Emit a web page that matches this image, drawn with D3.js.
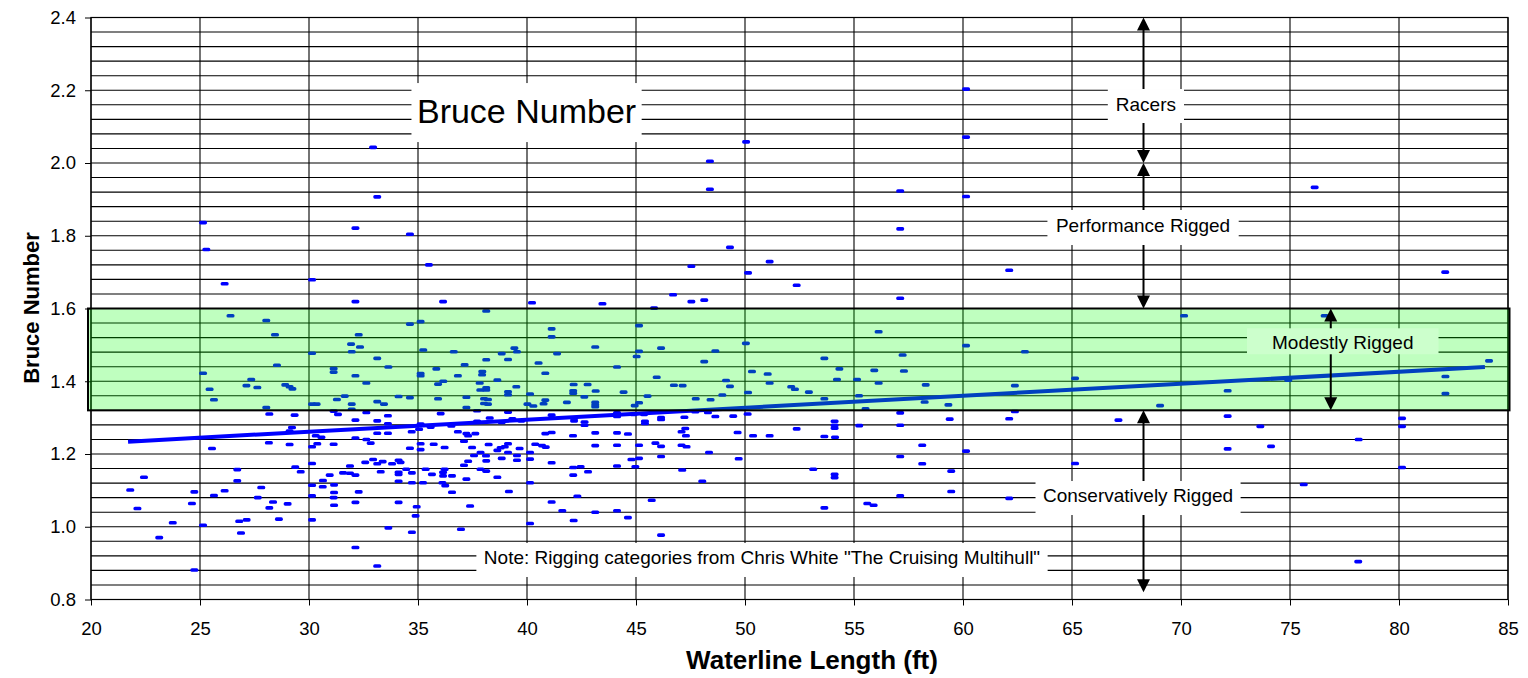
<!DOCTYPE html>
<html><head><meta charset="utf-8">
<script src="https://cdn.jsdelivr.net/npm/d3@7"></script>
<style>
body{margin:0;background:#fff}
svg{display:block;font-family:"Liberation Sans",Arial,sans-serif}
</style>
</head><body>
<svg id="c" width="1528" height="678"></svg>
<script>
// ---------- data ----------
const waterlineFt = [
  32.94,33.13,25.14,32.13,34.63,25.29,35.5,26.13,30.14,32.13, 36.15,40.23,38.13,26.4,
  60.14,60.14,50.05,48.39,48.39,57.12,60.14,57.12,49.31,47.54, 51.13,50.14,62.12,52.37,46.70,47.54,48.13,57.12,43.46,45.83,
  76.13,82.12,
  28.04,28.44,34.63,35.12,32.28,31.93,32.34,31.96,30.14,35.24,
  36.64,41.13,41.13,41.38,38.84,39.42,39.54,38.13,39.13,33.13,
  37.14,40.53,28.53,33.64,31.13,31.13,35.84,37.95,37.94,35.12,
  35.12,36.83,40.84,25.14,32.13,27.35,38.64,32.63,36.16,35.92,
  37.83,27.13,27.63,28.91,29.11,29.24,25.44,39.51,38.13,38.13,
  37.86,39.13,39.13,31.64,31.28,34.11,34.63,35.92,37.22,38.03,
  38.21,40.14,40.84,40.76,25.64,33.13,33.44,31.96,30.14,30.35,
  38.03,38.21,40.02,40.29,28.04,37.22,41.83,
  31.13,31.33,31.96,32.63,28.18,29.34,33.62,36.04,37.71,39.13,
  41.13,32.13,33.13,33.62,38.29,39.33,39.74,38.84,37.71,35.12,
  35.58,36.53,29.22,29.11,34.71,35.05,33.13,33.62,36.83,37.22,
  37.63,37.30,40.84,41.13,30.31,30.57,32.13,32.63,32.83,28.16,
  29.11,30.14,30.38,31.13,37.11,35.12,35.72,38.24,39.13,38.98,
  38.79,38.64,40.38,40.69,40.86,39.66,34.63,35.12,36.22,37.48,
  25.55,37.87,37.57,38.12,39.13,39.54,39.54,40.14,40.14,38.84,
  38.13,37.30,37.11,41.13,32.58,32.94,33.13,33.38,33.81,34.11,
  34.20,30.14,31.88,29.37,29.62,26.71,34.46,34.11,34.11,34.72,
  35.35,35.64,36.22,36.15,36.15,36.56,37.87,38.13,38.64,37.22,
  33.29,31.56,31.88,32.13,30.95,30.64,31.15,30.63,30.14,34.11,
  34.72,35.23,36.12,36.25,40.14,22.43,26.71,27.81,21.80,24.74,
  26.13,25.64,32.28,31.15,36.56,39.17,30.14,31.13,27.65,28.35,
  24.63,29.02,31.15,32.13,34.11,34.94,37.39,41.13,41.62,22.13,
  28.18,34.89,23.75,25.14,26.80,27.14,28.62,30.14,40.14,33.64,
  36.97,34.72,26.88,23.13,32.13,33.13,24.74,
  45.14,56.13,43.13,46.15,45.14,45.03,48.64,50.04,60.14,62.84,
  57.23,48.13,53.64,44.13,54.33,55.93,57.29,50.32,51.04,45.95,
  49.13,51.13,56.13,54.22,55.14,49.31,46.74,47.14,52.12,52.29,
  52.93,58.29,62.38,42.14,42.78,42.12,42.12,43.15,44.43,50.14,
  48.96,45.53,42.63,55.23,47.74,48.42,53.64,43.13,43.13,43.13,
  45.14,44.94,58.24,59.33,55.53,
  44.13,44.13,44.89,45.37,46.15,46.15,47.22,47.72,48.30,48.64,
  49.46,50.12,57.12,62.38,62.12,59.39,42.16,42.16,42.64,42.64,
  45.41,45.41,54.11,54.11,54.11,55.24,57.12,52.37,47.26,47.09,
  47.29,49.66,50.37,51.13,53.64,54.13,42.11,43.13,44.13,44.63,
  43.13,44.13,45.14,45.89,46.15,47.09,47.32,48.35,58.13,60.14,
  57.12,46.15,45.14,44.79,49.71,58.13,44.13,44.97,42.12,42.46,
  42.80,42.12,47.12,53.13,54.11,54.11,59.46,48.04,59.46,57.12,
  42.31,45.72,55.61,55.90,62.12,53.64,44.13,43.13,44.63,42.14,46.15,
  70.14,76.59,65.14,82.13,84.13,74.92,72.14,82.13,69.04,67.13,
  72.14,73.64,80.14,80.14,78.15,72.14,74.13,65.14,80.14,75.63,78.13
];
const bruceNumber = [
  2.043,1.907,1.836,1.821,1.804,1.762,1.720,1.668,1.679,1.619, 1.619,1.616,1.593,1.58,
  2.203,2.071,2.058,2.005,1.928,1.923,1.908,1.819,1.768,1.716, 1.729,1.698,1.705,1.664,1.638,1.619,1.623,1.628,1.613,1.601,
  1.933,1.700,
  1.567,1.528,1.557,1.564,1.528,1.502,1.494,1.481,1.477,1.486,
  1.481,1.544,1.522,1.476,1.476,1.491,1.481,1.459,1.460,1.463,
  1.445,1.450,1.444,1.439,1.435,1.425,1.434,1.427,1.418,1.421,
  1.415,1.415,1.422,1.422,1.415,1.405,1.403,1.395,1.400,1.392,
  1.395,1.388,1.383,1.390,1.385,1.379,1.378,1.385,1.382,1.376,
  1.376,1.371,1.363,1.359,1.350,1.358,1.355,1.352,1.356,1.352,
  1.350,1.365,1.348,1.338,1.349,1.344,1.337,1.337,1.337,1.337,
  1.339,1.337,1.337,1.332,1.328,1.328,1.342,
  1.318,1.309,1.323,1.314,1.310,1.307,1.305,1.311,1.319,1.315,
  1.307,1.293,1.291,1.283,1.299,1.297,1.291,1.287,1.290,1.282,
  1.274,1.277,1.273,1.263,1.261,1.268,1.257,1.257,1.261,1.256,
  1.256,1.250,1.256,1.259,1.250,1.246,1.244,1.240,1.230,1.231,
  1.226,1.220,1.228,1.227,1.235,1.228,1.227,1.226,1.228,1.220,
  1.217,1.210,1.227,1.223,1.219,1.215,1.216,1.212,1.218,1.218,
  1.215,1.204,1.196,1.195,1.204,1.196,1.183,1.204,1.186,1.188,
  1.181,1.180,1.169,1.176,1.177,1.185,1.173,1.179,1.173,1.183,
  1.177,1.174,1.167,1.164,1.151,1.157,1.158,1.150,1.144,1.148,
  1.158,1.144,1.158,1.150,1.140,1.140,1.158,1.153,1.136,1.131,
  1.151,1.148,1.147,1.142,1.142,1.127,1.115,1.110,1.114,1.125,
  1.121,1.121,1.121,1.113,1.121,1.136,1.126,1.108,1.101,1.096,
  1.099,1.086,1.096,1.094,1.095,1.097,1.085,1.080,1.080,1.068,
  1.064,1.063,1.059,1.067,1.067,1.055,1.057,1.068,1.044,1.050,
  1.052,1.030,1.011,1.004,1.015,1.019,1.021,1.019,1.009,0.997,
  0.993,0.985,0.983,0.970,0.943,0.892,0.881,
  1.553,1.536,1.494,1.491,1.482,1.468,1.483,1.504,1.498,1.481,
  1.472,1.454,1.463,1.439,1.434,1.430,1.428,1.427,1.420,1.411,
  1.402,1.395,1.395,1.405,1.405,1.386,1.389,1.388,1.385,1.378,
  1.370,1.390,1.388,1.391,1.391,1.374,1.367,1.373,1.370,1.369,
  1.362,1.359,1.357,1.360,1.352,1.349,1.352,1.342,1.335,1.330,
  1.341,1.333,1.343,1.335,1.324,
  1.313,1.303,1.309,1.309,1.300,1.295,1.301,1.316,1.314,1.303,
  1.304,1.310,1.313,1.317,1.297,1.296,1.298,1.291,1.288,1.279,
  1.290,1.284,1.290,1.279,1.271,1.278,1.279,1.269,1.270,1.261,
  1.250,1.259,1.250,1.250,1.248,1.246,1.250,1.258,1.258,1.255,
  1.223,1.224,1.224,1.230,1.221,1.224,1.220,1.204,1.224,1.208,
  1.193,1.193,1.188,1.185,1.187,1.173,1.167,1.165,1.163,1.165,
  1.151,1.142,1.156,1.158,1.144,1.135,1.153,1.125,1.097,1.085,
  1.084,1.073,1.064,1.059,1.078,1.052,1.044,1.040,1.025,1.017,0.977,
  1.580,1.580,1.408,1.413,1.456,1.403,1.374,1.366,1.333,1.293,
  1.304,1.276,1.298,1.276,1.240,1.214,1.221,1.174,1.163,1.116,0.904
];
const trendX = [21.7, 83.94];
const trendY = [1.234, 1.439];
const xTicks = [20,25,30,35,40,45,50,55,60,65,70,75,80,85];
const yTicks = [0.8,1.0,1.2,1.4,1.6,1.8,2.0,2.2,2.4];
const yGridStep = 0.04;
const modestBand = [1.32, 1.6];
const categories   = ["Racers","Performance Rigged","Modestly Rigged","Conservatively Rigged"];
const catArrowX    = [68.28, 68.28, 76.87, 68.28];
const catArrowTop  = [2.4, 2.0, 1.6, 1.32];
const catArrowBot  = [2.0, 1.6, 1.32, 0.82];
const catLabelX    = [68.39, 68.26, 77.42, 68.03];
const catLabelY    = [2.144, 1.8095, 1.4887, 1.068];
const chartTitle = "Bruce Number";
const titleAt = [39.98, 2.109];
const noteText = 'Note: Rigging categories from Chris White "The Cruising Multihull"';
const noteAt = [50.78, 0.8968];
const xTitle = "Waterline Length (ft)";
const yTitle = "Bruce Number";

// ---------- drawing ----------
const FONT = '"Liberation Sans", Arial, sans-serif';
const svg = d3.select("#c");
const x = d3.scaleLinear().domain([20,85]).range([91,1508]);
const y = d3.scaleLinear().domain([0.8,2.4]).range([599.5,17.5]);

const yGrid = d3.range(0, Math.round((2.4-0.8)/yGridStep)+1).map(i => +(0.8 + i*yGridStep).toFixed(2));

// gridlines
const gGrid = svg.append("g");
gGrid.selectAll("line.h").data(yGrid).join("line").attr("class","h")
  .attr("x1", x(20)).attr("x2", x(85)).attr("y1", d=>y(d)).attr("y2", d=>y(d))
  .attr("stroke","#000").attr("stroke-width",1.1);
gGrid.selectAll("line.v").data(xTicks).join("line").attr("class","v")
  .attr("x1", d=>x(d)).attr("x2", d=>x(d)).attr("y1", y(2.4)).attr("y2", y(0.8))
  .attr("stroke","#000").attr("stroke-width",1.1);

// axes
const gx = svg.append("g").attr("transform",`translate(0,${y(0.8)})`)
  .call(d3.axisBottom(x).tickValues(xTicks).tickSize(6).tickPadding(16).tickFormat(d3.format("d")));
gx.select(".domain").remove();
gx.attr("font-size",18.5).attr("font-family",FONT);
gx.selectAll("text").attr("fill","#000");
gx.selectAll("line").attr("stroke","#000");

const gy = svg.append("g").attr("transform",`translate(${x(20)},0)`)
  .call(d3.axisLeft(y).tickValues(yTicks).tickSize(6).tickPadding(9).tickFormat(d3.format(".1f")));
gy.select(".domain").remove();
gy.attr("font-size",18.5).attr("font-family",FONT);
gy.selectAll("text").attr("fill","#000");
gy.selectAll("line").attr("stroke","#000");

// plot border
svg.append("rect").attr("x",x(20)).attr("y",y(2.4)).attr("width",x(85)-x(20)).attr("height",y(0.8)-y(2.4))
  .attr("fill","none").attr("stroke","#000").attr("stroke-width",1.2);

// points
const n = Math.min(waterlineFt.length, bruceNumber.length);
const pts = d3.range(n).map(i => [waterlineFt[i], bruceNumber[i]]);
svg.append("g").selectAll("rect").data(pts).join("rect")
  .attr("x", d=>x(d[0])-4).attr("y", d=>y(d[1])-1.8)
  .attr("width",8).attr("height",3.6).attr("rx",1.6)
  .attr("fill","#0000ff");

// trend line
svg.append("line")
  .attr("x1",x(trendX[0])).attr("y1",y(trendY[0]))
  .attr("x2",x(trendX[1])).attr("y2",y(trendY[1]))
  .attr("stroke","#0000ff").attr("stroke-width",4);

// modestly rigged band (translucent green over everything)
svg.append("rect")
  .attr("x", x(20)-3).attr("y", y(modestBand[1]))
  .attr("width", (x(85)+1.5)-(x(20)-3)).attr("height", y(modestBand[0])-y(modestBand[1]))
  .attr("fill","#00ff00").attr("fill-opacity",0.25)
  .attr("stroke","#000").attr("stroke-width",2);

// arrows
const gA = svg.append("g");
categories.forEach((c,i) => {
  const ax = x(catArrowX[i]), y1 = y(catArrowTop[i]), y2 = y(catArrowBot[i]);
  gA.append("line").attr("x1",ax).attr("x2",ax).attr("y1",y1+8).attr("y2",y2-8)
    .attr("stroke","#000").attr("stroke-width",2);
  gA.append("path").attr("d",`M${ax},${y1}L${ax-6.5},${y1+13}L${ax+6.5},${y1+13}Z`).attr("fill","#000");
  gA.append("path").attr("d",`M${ax},${y2}L${ax-6.5},${y2-13}L${ax+6.5},${y2-13}Z`).attr("fill","#000");
});

// label boxes
function labelBox(txt, cx, baseY, size, padX, boxH, boxDy, fill, weight) {
  const g = svg.append("g");
  const r = g.append("rect");
  const t = g.append("text").attr("x",cx).attr("y",baseY)
    .attr("text-anchor","middle").attr("font-size",size).attr("font-family",FONT)
    .attr("font-weight",weight||"normal").attr("fill","#000").text(txt);
  const w = t.node().getComputedTextLength();
  const cy = baseY + boxDy;
  r.attr("x",cx - w/2 - padX).attr("y",cy - boxH/2).attr("width",w + 2*padX).attr("height",boxH).attr("fill",fill);
}
const boxPadX = [8, 8.5, 25, 7.5];
const boxH = [34, 35, 26, 34];
const boxDy = [-4.6, -4.8, -7.7, -4];
const boxFill = ["#fff","#fff","#ccffcc","#fff"];
categories.forEach((c,i) => {
  labelBox(c, x(catLabelX[i]), y(catLabelY[i]), 19, boxPadX[i], boxH[i], boxDy[i], boxFill[i]);
});
labelBox(noteText, x(noteAt[0]), y(noteAt[1]), 19, 7.5, 34, -4.3, "#fff");
labelBox(chartTitle, x(titleAt[0]), y(titleAt[1]), 34, 5.5, 59, -10.8, "#fff");

// axis titles
svg.append("text").attr("x", 812).attr("y", 669).attr("text-anchor","middle")
  .attr("font-size",26).attr("font-weight","bold").attr("font-family",FONT).text(xTitle);
svg.append("text").attr("transform","translate(39,308) rotate(-90)").attr("text-anchor","middle")
  .attr("font-size",22).attr("font-weight","bold").attr("font-family",FONT).text(yTitle);
</script>
</body></html>
